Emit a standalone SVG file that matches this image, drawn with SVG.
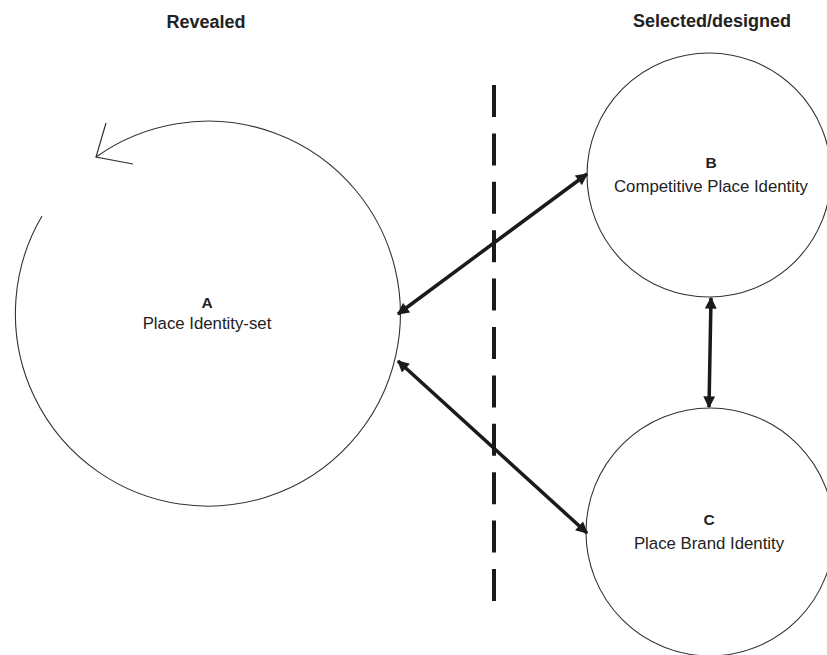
<svg xmlns="http://www.w3.org/2000/svg" width="827" height="655" viewBox="0 0 827 655">
<style>
  .circ { fill: none; stroke: #333; stroke-width: 1.1; }
  .title { font-family: "Liberation Sans", Arial, sans-serif; font-size: 18px; font-weight: bold; fill: #222; text-anchor: middle; }
  .letter { font-family: "Liberation Sans", Arial, sans-serif; font-size: 15.5px; font-weight: bold; fill: #222; text-anchor: middle; }
  .label { font-family: "Liberation Sans", Arial, sans-serif; font-size: 16.8px; fill: #222; text-anchor: middle; }
  .conn { stroke: #1a1a1a; stroke-width: 3.5; fill: none; marker-start: url(#ah); marker-end: url(#ah); }
  .divider { stroke: #1a1a1a; stroke-width: 4; stroke-dasharray: 32 16.4; fill: none; }
</style>
<defs>
  <marker id="ah" viewBox="0 0 10 10" refX="9" refY="5" markerWidth="3.8" markerHeight="3.4" orient="auto-start-reverse" markerUnits="strokeWidth">
    <path d="M0,0 L10,5 L0,10 z" fill="#1a1a1a"/>
  </marker>
</defs>
<rect width="827" height="655" fill="#fff"/>
<text class="title" x="206" y="28">Revealed</text>
<text class="title" x="712" y="27">Selected/designed</text>
<line class="divider" x1="494" y1="85" x2="494" y2="601"/>
<g id="nodeA">
  <path class="circ" d="M42,216 A192.5,192.5 0 1 0 96,157"/>
  <polyline points="106,123 96,157 133,164" fill="none" stroke="#333" stroke-width="1.2"/>
  <text class="letter" x="207" y="308">A</text>
  <text class="label" x="207" y="329">Place Identity-set</text>
</g>
<g id="nodeB">
  <circle class="circ" cx="709" cy="175" r="122"/>
  <text class="letter" x="711" y="168">B</text>
  <text class="label" x="711" y="192">Competitive Place Identity</text>
</g>
<g id="nodeC">
  <circle class="circ" cx="710" cy="532" r="124"/>
  <text class="letter" x="709" y="525">C</text>
  <text class="label" x="709" y="549">Place Brand Identity</text>
</g>
<g id="connectors">
  <line class="conn" x1="398" y1="314" x2="587" y2="174"/>
  <line class="conn" x1="398" y1="361" x2="587" y2="533"/>
  <line class="conn" x1="711" y1="298" x2="709" y2="407"/>
</g>
</svg>
